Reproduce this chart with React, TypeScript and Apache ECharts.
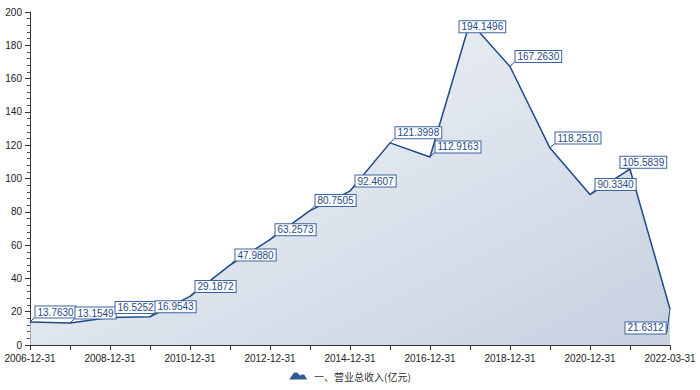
import React, { useEffect, useRef } from "react";
import * as echarts from "echarts";

const categories = [
  "2006-12-31", "2007-12-31", "2008-12-31", "2009-12-31", "2010-12-31",
  "2011-12-31", "2012-12-31", "2013-12-31", "2014-12-31", "2015-12-31",
  "2016-12-31", "2017-12-31", "2018-12-31", "2019-12-31", "2020-12-31",
  "2021-12-31", "2022-03-31",
];

const revenue = [
  13.763, 13.1549, 16.5252, 16.9543, 29.1872, 47.988, 63.2573, 80.7505,
  92.4607, 121.3998, 112.9163, 194.1496, 167.263, 118.251, 90.334, 105.5839,
  21.6312,
];

const seriesName = "一、营业总收入(亿元)";

const yTicks = { min: 0, max: 200, interval: 20 };

// label placement exceptions (index -> offset)
const labelOffsets: Record<number, [number, number]> = {
  11: [-16, 5],
  15: [-15, -7],
  16: [-50, 19],
};

const BLUE = "#1f4a88";

export default function App() {
  const ref = useRef<HTMLDivElement>(null);
  useEffect(() => {
    if (!ref.current) return;
    const chart = echarts.init(ref.current, undefined, { renderer: "svg" });
    const data = revenue.map((v, i) => {
      const item: any = { value: v };
      if (labelOffsets[i]) item.label = { offset: labelOffsets[i] };
      return item;
    });
    chart.setOption({
      animation: false,
      grid: { left: 30, right: 30, top: 12, bottom: 45, containLabel: false },
      legend: {
        bottom: 4,
        left: "center",
        itemWidth: 22,
        itemHeight: 7,
        icon: "path://M0,8 L5,1 L8,1 L11,4 L13,3 L15,3 L18,8 Z",
        textStyle: { fontSize: 10, color: "#333", fontFamily: "Noto Sans CJK SC, sans-serif" },
        data: [{ name: seriesName, itemStyle: { color: "#2e5b93" } }],
      },
      xAxis: {
        type: "category",
        data: categories,
        boundaryGap: false,
        axisLine: { lineStyle: { color: "#333" } },
        axisTick: { show: true, interval: 0, lineStyle: { color: "#333" } },
        axisLabel: {
          interval: 1,
          fontSize: 10,
          color: "#222",
          fontFamily: "Liberation Sans, Arial, sans-serif",
          margin: 8,
        },
        splitLine: { show: false },
      },
      yAxis: {
        type: "value",
        min: yTicks.min,
        max: yTicks.max,
        interval: yTicks.interval,
        axisLine: { show: true, lineStyle: { color: "#333" } },
        axisTick: { show: true, lineStyle: { color: "#333" } },
        minorTick: { show: true, splitNumber: 5, lineStyle: { color: "#555" } },
        axisLabel: {
          fontSize: 10,
          color: "#222",
          fontFamily: "Liberation Sans, Arial, sans-serif",
        },
        splitLine: { show: false },
      },
      series: [
        {
          name: seriesName,
          type: "line",
          data,
          symbol: "circle",
          symbolSize: 1,
          itemStyle: { color: BLUE },
          lineStyle: { color: BLUE, width: 1.5 },
          areaStyle: {
            color: new echarts.graphic.LinearGradient(0, 0, 1, 1, [
              { offset: 0, color: "#f0f3f7" },
              { offset: 0.5, color: "#d2dae7" },
              { offset: 1, color: "#aebcd2" },
            ]),
          },
          label: {
            show: true,
            position: "right",
            distance: 5,
            offset: [0, -10],
            formatter: (p: any) => Number(p.value).toFixed(4),
            fontSize: 10,
            color: BLUE,
            fontFamily: "Liberation Sans, Arial, sans-serif",
            backgroundColor: "#fff",
            borderColor: "#3c659e",
            borderWidth: 1,
            padding: [1, 2, 0, 2],
          },
          labelLine: { show: true, lineStyle: { color: BLUE, width: 1 } },
        },
      ],
    });
    return () => chart.dispose();
  }, []);
  return (
    <div
      ref={ref}
      style={{ position: "absolute", left: 0, top: 0, width: 700, height: 390 }}
    />
  );
}
